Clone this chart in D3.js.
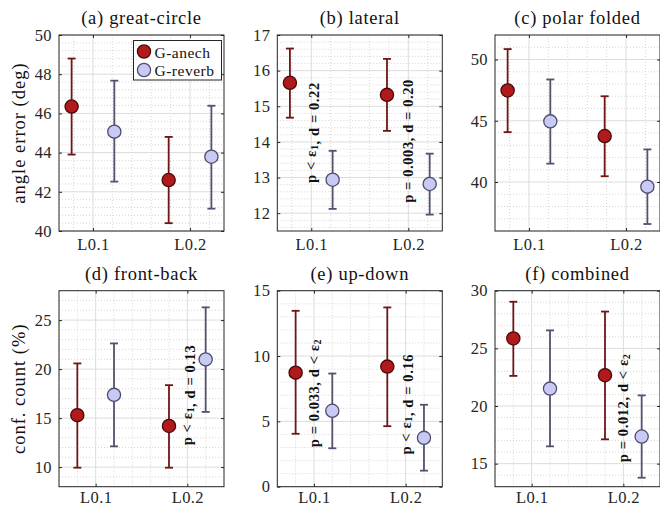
<!DOCTYPE html>
<html>
<head>
<meta charset="utf-8">
<script src="https://cdn.jsdelivr.net/npm/d3@7"></script>
<style>
  body { margin: 0; background: #fff; }
  svg { display: block; font-family: "Liberation Serif", serif; }
</style>
</head>
<body>
<svg id="canvas" width="660" height="507"></svg>
<script>
// chart data
const groups = ["L0.1", "L0.2"];
const seriesNames = ["G-anech", "G-reverb"];
const panelTitles = ["(a) great-circle", "(b) lateral", "(c) polar folded", "(d) front-back", "(e) up-down", "(f) combined"];

const anechMean = [[46.35, 42.6], [15.66, 15.32], [47.47, 43.75], [15.3, 14.2], [8.73, 9.19], [25.86, 22.67]];
const anechLow = [[43.9, 40.4], [14.68, 14.31], [44.07, 40.47], [9.94, 9.94], [4.05, 4.63], [22.61, 17.11]];
const anechHigh = [[48.8, 44.8], [16.62, 16.33], [50.85, 47.0], [20.58, 18.36], [13.46, 13.72], [29.04, 28.19]];
const reverbMean = [[45.07, 43.79], [12.94, 12.82], [44.95, 39.62], [17.37, 20.99], [5.81, 3.74], [21.51, 17.35]];
const reverbLow = [[42.52, 41.14], [12.12, 11.96], [41.5, 36.57], [12.12, 15.63], [2.94, 1.23], [16.5, 13.78]];
const reverbHigh = [[47.67, 46.39], [13.75, 13.67], [48.37, 42.66], [22.62, 26.3], [8.66, 6.27], [26.56, 20.92]];

const yDomains = [[40, 50], [11.5, 17], [36, 52], [8, 28], [0, 15], [13, 30]];
const yTicks = [[40, 42, 44, 46, 48, 50], [12, 13, 14, 15, 16, 17], [40, 45, 50], [10, 15, 20, 25], [0, 5, 10, 15], [15, 20, 25, 30]];
const yMinorStep = [0.4, 0.2, 1, 1, 1, 1];
const yLabels = ["angle error (deg)", "conf. count (%)"];

// significance notes: panel, group, y where text starts
const noteText = ["p < ε_1, d = 0.22", "p = 0.003, d = 0.20", "p < ε_1, d = 0.13", "p = 0.033, d < ε_2", "p < ε_1, d = 0.16", "p = 0.012, d < ε_2"];
const notePanel = [1, 1, 3, 4, 4, 5];
const noteGroup = [1, 2, 2, 1, 2, 2];
const noteStart = [12.85, 12.29, 12.22, 3.02, 2.46, 15.13];

const svg = d3.select("#canvas");

const colLeft = [59, 277.3, 495];
const rowTop = [35, 290.7];
const panelW = 165;
const panelH = 196;
const xDomains = [[0.65, 2.35], [0.6, 2.4]];
const offsets = [0.22, 0.2];
const xPad = [7, 5];

const red = { fill: "#b01a1a", stroke: "#4a0808", bar: "#6e1616" };
const blue = { fill: "#c9c9f6", stroke: "#4e4e6c", bar: "#52526e" };
const frame = "#262626";

const addText = (sel, str) => {
  // "_x" means subscript x
  const parts = str.split(/_(\d)/);
  parts.forEach((p, i) => {
    if (p === "") return;
    if (i % 2 === 1) {
      sel.append("tspan").attr("font-size", "0.7em").attr("dy", "0.25em").text(p);
      sel.append("tspan").attr("dy", "-0.25em").text("");
    } else {
      sel.append("tspan").text(p);
    }
  });
};

panelTitles.forEach((title, k) => {
  const row = Math.floor(k / 3);
  const col = k % 3;
  const left = colLeft[col];
  const top = rowTop[row];

  const x = d3.scaleLinear().domain(xDomains[row]).range([left, left + panelW]);
  const y = d3.scaleLinear().domain(yDomains[k]).range([top + panelH, top]);

  const g = svg.append("g");

  // minor grid
  const yd = yDomains[k];
  const yMinor = d3.range(Math.ceil(yd[0] / yMinorStep[k]) * yMinorStep[k], yd[1] + 1e-9, yMinorStep[k])
    .filter((v) => !yTicks[k].some((t) => Math.abs(t - v) < 1e-6));
  const xd = xDomains[row];
  const xMinor = d3.range(0.2, 3, 0.2).filter((v) => v > xd[0] && v < xd[1] && Math.abs(v - 1) > 1e-6 && Math.abs(v - 2) > 1e-6);

  g.selectAll(".ymin").data(yMinor).enter().append("line")
    .attr("x1", left).attr("x2", left + panelW)
    .attr("y1", (d) => y(d)).attr("y2", (d) => y(d))
    .attr("stroke", "#c4c4c4").attr("stroke-width", 0.7).attr("stroke-dasharray", "1,2");
  g.selectAll(".xmin").data(xMinor).enter().append("line")
    .attr("x1", (d) => x(d)).attr("x2", (d) => x(d))
    .attr("y1", top).attr("y2", top + panelH)
    .attr("stroke", "#c4c4c4").attr("stroke-width", 0.7).attr("stroke-dasharray", "1,2");

  // major grid
  g.selectAll(".ymaj").data(yTicks[k]).enter().append("line")
    .attr("x1", left).attr("x2", left + panelW)
    .attr("y1", (d) => y(d)).attr("y2", (d) => y(d))
    .attr("stroke", "#dcdcdc").attr("stroke-width", 1);
  g.selectAll(".xmaj").data([1, 2]).enter().append("line")
    .attr("x1", (d) => x(d)).attr("x2", (d) => x(d))
    .attr("y1", top).attr("y2", top + panelH)
    .attr("stroke", "#dcdcdc").attr("stroke-width", 1);

  // axes
  const yAxis = d3.axisLeft(y).tickValues(yTicks[k]).tickFormat(d3.format("d")).tickSizeInner(-3).tickSizeOuter(0).tickPadding(7);
  const yAxisR = d3.axisRight(y).tickValues(yTicks[k]).tickSizeInner(-3).tickSizeOuter(0).tickFormat("");
  const xAxis = d3.axisBottom(x).tickValues([1, 2]).tickFormat((d) => groups[d - 1]).tickSizeInner(-3).tickSizeOuter(0).tickPadding(xPad[row]);
  const xAxisT = d3.axisTop(x).tickValues([1, 2]).tickSizeInner(-3).tickSizeOuter(0).tickFormat("");

  [
    [yAxis, `translate(${left},0)`],
    [yAxisR, `translate(${left + panelW},0)`],
    [xAxis, `translate(0,${top + panelH})`],
    [xAxisT, `translate(0,${top})`],
  ].forEach(([ax, tr]) => {
    const a = g.append("g").attr("transform", tr).call(ax);
    a.select(".domain").remove();
    a.selectAll("line").attr("stroke", frame);
    a.selectAll("text").attr("fill", frame).attr("font-size", 16.5).attr("font-family", "Liberation Serif")
      .attr("letter-spacing", 0.4);
  });

  g.append("rect")
    .attr("x", left).attr("y", top).attr("width", panelW).attr("height", panelH)
    .attr("fill", "none").attr("stroke", frame).attr("stroke-width", 1);

  // title
  g.append("text")
    .attr("x", left + panelW / 2).attr("y", top - 11)
    .attr("text-anchor", "middle").attr("font-size", 18.5).attr("letter-spacing", 0.7).attr("fill", "#111")
    .text(title);

  // error bars + markers
  const series = [
    { mean: anechMean[k], lo: anechLow[k], hi: anechHigh[k], c: red, off: -offsets[row] },
    { mean: reverbMean[k], lo: reverbLow[k], hi: reverbHigh[k], c: blue, off: offsets[row] },
  ];
  series.forEach((s) => {
    const pts = s.mean.map((m, i) => ({ gx: i + 1 + s.off, m, lo: s.lo[i], hi: s.hi[i] }));
    const eb = g.selectAll(null).data(pts).enter().append("g");
    eb.append("line")
      .attr("x1", (d) => x(d.gx)).attr("x2", (d) => x(d.gx))
      .attr("y1", (d) => y(d.lo)).attr("y2", (d) => y(d.hi))
      .attr("stroke", s.c.bar).attr("stroke-width", 1.8);
    ["lo", "hi"].forEach((key) => {
      eb.append("line")
        .attr("x1", (d) => x(d.gx) - 4).attr("x2", (d) => x(d.gx) + 4)
        .attr("y1", (d) => y(d[key])).attr("y2", (d) => y(d[key]))
        .attr("stroke", s.c.bar).attr("stroke-width", 1.8);
    });
    eb.append("circle")
      .attr("cx", (d) => x(d.gx)).attr("cy", (d) => y(d.m)).attr("r", 6.6)
      .attr("fill", s.c.fill).attr("stroke", s.c.stroke).attr("stroke-width", 1.3);
  });

  // notes
  noteText.forEach((t, n) => {
    if (notePanel[n] !== k) return;
    const px = x(noteGroup[n]);
    const py = y(noteStart[n]);
    const tx = g.append("text")
      .attr("transform", `translate(${px},${py}) rotate(-90)`)
      .attr("dominant-baseline", "central")
      .attr("font-size", 14.5).attr("font-weight", "bold").attr("letter-spacing", 0.6).attr("fill", "#111");
    addText(tx, t);
  });

  // legend
  if (k === 0) {
    const lg = g.append("g");
    lg.append("rect").attr("x", 133.5).attr("y", 40.5).attr("width", 88).attr("height", 39.5)
      .attr("fill", "#fff").attr("stroke", frame).attr("stroke-width", 1);
    seriesNames.forEach((nm, i) => {
      const c = i === 0 ? red : blue;
      lg.append("circle").attr("cx", 144).attr("cy", 51.5 + i * 18.5).attr("r", 6.6)
        .attr("fill", c.fill).attr("stroke", c.stroke).attr("stroke-width", 1.3);
      lg.append("text").attr("x", 154.5).attr("y", 52 + i * 18.5).attr("dominant-baseline", "central")
        .attr("font-size", 15.5).attr("letter-spacing", 0.5).attr("fill", "#111").text(nm);
    });
  }
});

// y labels
yLabels.forEach((lab, r) => {
  svg.append("text")
    .attr("transform", `translate(19,${rowTop[r] + panelH / 2}) rotate(-90)`)
    .attr("text-anchor", "middle").attr("dominant-baseline", "central")
    .attr("font-size", 18.5).attr("letter-spacing", 1).attr("fill", "#111")
    .text(lab);
});
</script>
</body>
</html>
